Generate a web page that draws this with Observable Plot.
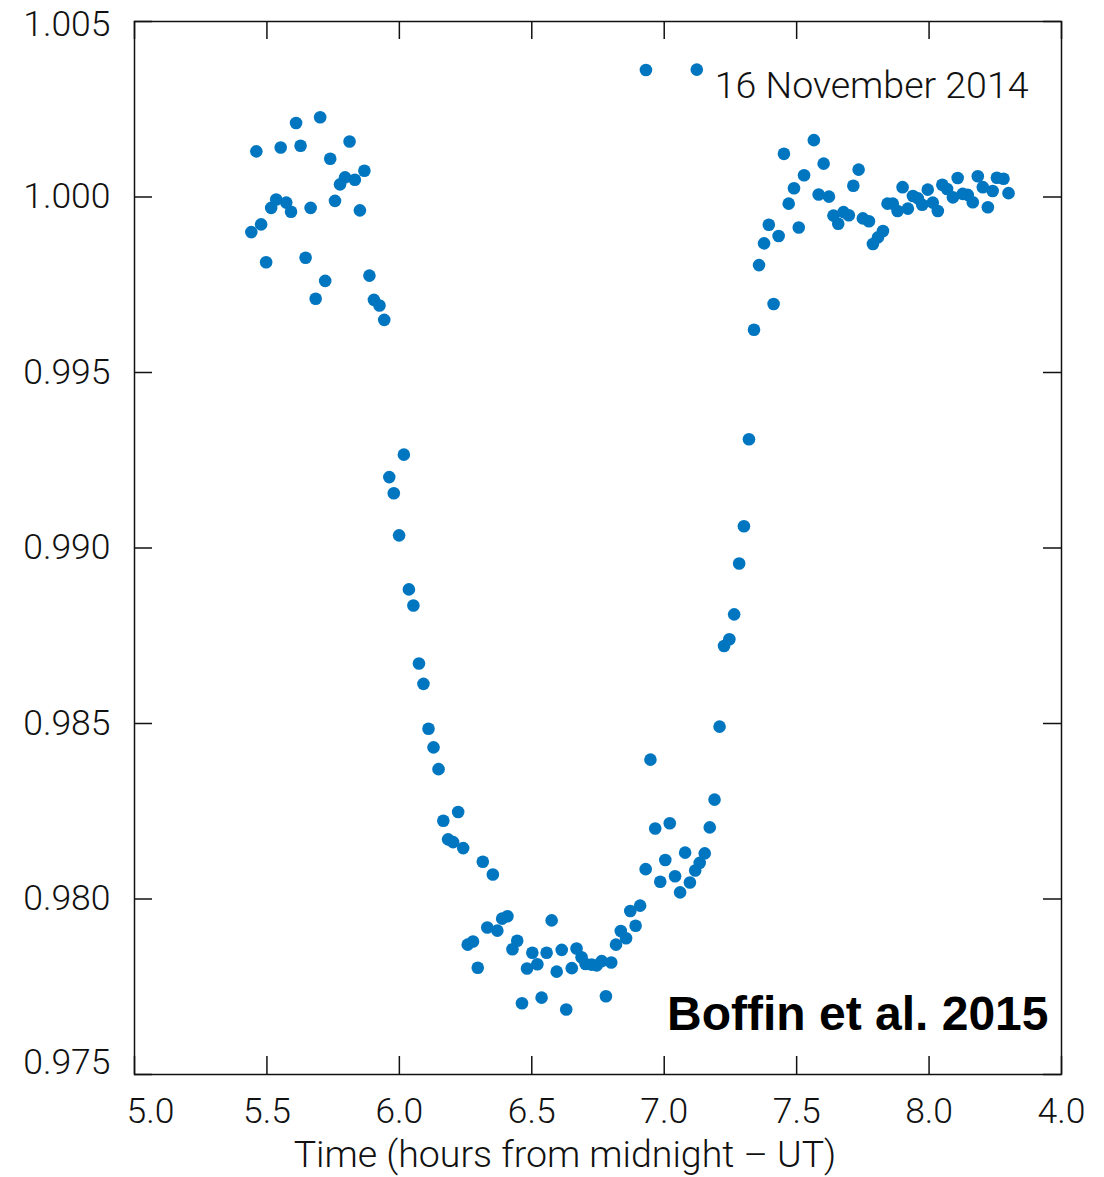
<!DOCTYPE html>
<html>
<head>
<meta charset="utf-8">
<script src="https://cdn.jsdelivr.net/npm/d3@7"></script>
<script src="https://cdn.jsdelivr.net/npm/@observablehq/plot@0.6"></script>
<style>
  html, body { margin: 0; padding: 0; background: #ffffff; }
  #chart svg { display: block; }
</style>
</head>
<body>
<div id="chart"></div>
<script>
// Time (hours from midnight, UT)
const time = [
  5.441,5.460,5.478,5.497,5.516,5.535,5.552,5.573,5.591,5.610,5.627,5.646,5.665,5.684,5.701,5.720,5.739,5.757,5.776,5.795,5.812,5.832,5.851,5.868,5.887,5.904,5.925,5.943,
  5.962,5.979,5.999,6.017,6.036,6.053,6.074,6.091,6.110,6.129,6.148,6.166,6.184,6.203,6.222,6.241,6.258,6.278,6.296,6.315,6.332,6.353,6.370,6.388,6.408,6.427,6.445,6.463,6.482,6.502,6.521,6.537,6.556,6.575,6.594,6.613,6.630,6.651,6.669,6.688,6.703,6.726,6.745,6.764,6.780,6.800,6.818,6.836,6.856,6.872,6.892,6.909,6.930,
  6.931,6.948,6.966,6.985,7.004,7.021,7.041,7.060,7.079,7.097,7.117,7.123,7.134,7.153,7.172,7.190,7.209,7.226,7.246,7.264,7.283,7.301,7.320,7.339,7.358,7.377,7.395,7.413,7.432,7.452,7.470,7.490,7.508,7.528,7.565,7.583,7.602,7.622,7.639,7.657,7.677,7.697,7.714,7.734,7.750,7.773,7.788,7.807,7.826,7.843,7.863,7.881,7.900,7.920,7.939,7.958,7.974,7.995,8.014,8.033,8.050,8.068,8.090,8.108,8.127,8.146,8.165,8.184,8.203,8.222,8.240,8.256,8.281,8.300
];
// Relative flux
const flux = [
  0.99900,1.00130,0.99922,0.99814,0.99969,0.99993,1.00141,0.99984,0.99958,1.00211,1.00146,0.99827,0.99969,0.99710,1.00227,0.99761,1.00109,0.99989,1.00036,1.00056,1.00158,1.00049,0.99962,1.00075,0.99776,0.99707,0.99691,0.99650,
  0.99202,0.99156,0.99036,0.99266,0.98882,0.98836,0.98671,0.98613,0.98485,0.98432,0.98370,0.98223,0.98170,0.98162,0.98248,0.98145,0.97870,0.97879,0.97804,0.98106,0.97919,0.98070,0.97910,0.97944,0.97951,0.97857,0.97881,0.97703,0.97802,0.97847,0.97814,0.97719,0.97847,0.97939,0.97793,0.97855,0.97685,0.97803,0.97859,0.97834,0.97815,0.97813,0.97811,0.97823,0.97723,0.97819,0.97870,0.97909,0.97888,0.97966,0.97924,0.97981,0.98085,
  1.00362,0.98397,0.98201,0.98049,0.98111,0.98216,0.98065,0.98019,0.98132,0.98047,0.98081,1.00363,0.98103,0.98130,0.98204,0.98283,0.98491,0.98721,0.98740,0.98811,0.98956,0.99062,0.99310,0.99622,0.99806,0.99868,0.99921,0.99695,0.99889,1.00123,0.99981,1.00025,0.99913,1.00062,1.00162,1.00007,1.00095,1.00001,0.99947,0.99924,0.99957,0.99948,1.00032,1.00078,0.99939,0.99931,0.99866,0.99885,0.99903,0.99981,0.99981,0.99960,1.00028,0.99967,1.00003,0.99996,0.99978,1.00021,0.99984,0.99960,1.00035,1.00023,0.99999,1.00054,1.00009,1.00006,0.99985,1.00059,1.00028,0.99971,1.00017,1.00055,1.00052,1.00011
];

// Axis ticks and labels (the original's last x label reads "4.0")
const xTicks = [5.0, 5.5, 6.0, 6.5, 7.0, 7.5, 8.0, 8.5];
const xTickLabels = ["5.0", "5.5", "6.0", "6.5", "7.0", "7.5", "8.0", "4.0"];
const yTicks = [0.975, 0.980, 0.985, 0.990, 0.995, 1.000, 1.005];
const yTickLabels = ["0.975", "0.980", "0.985", "0.990", "0.995", "1.000", "1.005"];

const xTitle = "Time (hours from midnight \u2013 UT)";
const dateNote = "16 November 2014";
const credit = "Boffin et al. 2015";

const n = Math.min(time.length, flux.length);
const points = d3.range(n).map(i => ({t: time[i], f: flux[i]}));

const W = 1104, H = 1177;
const mL = 134, mR = 43, mT = 21, mB = 103;
const innerW = W - mL - mR, innerH = H - mT - mB;
const tickLen = 18;
const xLabel = d => xTickLabels[xTicks.indexOf(d)];
const yLabel = d => yTickLabels[yTicks.indexOf(d)];
const lightFont = '"Helvetica Neue", Roboto, "Liberation Sans", Arial, sans-serif';

const chart = Plot.plot({
  width: W,
  height: H,
  marginLeft: mL,
  marginRight: mR,
  marginTop: mT,
  marginBottom: mB,
  style: {fontFamily: lightFont, fontSize: "35px", fontWeight: 300, color: "#111", background: "#fff"},
  x: {domain: [5.0, 8.5]},
  y: {domain: [0.975, 1.005]},
  marks: [
    // inward ticks on all four sides
    Plot.tickX(xTicks, {x: d => d, insetTop: innerH - tickLen, stroke: "#111", strokeWidth: 1.5}),
    Plot.tickX(xTicks, {x: d => d, insetBottom: innerH - tickLen, stroke: "#111", strokeWidth: 1.5}),
    Plot.tickY(yTicks, {y: d => d, insetRight: innerW - tickLen, stroke: "#111", strokeWidth: 1.5}),
    Plot.tickY(yTicks, {y: d => d, insetLeft: innerW - tickLen, stroke: "#111", strokeWidth: 1.5}),
    // tick labels
    Plot.axisX(xTicks.slice(1), {anchor: "bottom", tickSize: 0, tickPadding: 23, tickFormat: xLabel, label: null, fontSize: 35.5}),
    Plot.axisX([xTicks[0]], {anchor: "bottom", tickSize: 0, tickPadding: 23, dx: 16, tickFormat: xLabel, label: null, fontSize: 35.5}),
    Plot.axisY(yTicks.slice(1, -1), {anchor: "left", tickSize: 0, tickPadding: 24, tickFormat: yLabel, label: null, fontSize: 35.5}),
    Plot.axisY([yTicks[0]], {anchor: "left", tickSize: 0, tickPadding: 24, dy: -12, tickFormat: yLabel, label: null, fontSize: 35.5}),
    Plot.axisY([yTicks[yTicks.length - 1]], {anchor: "left", tickSize: 0, tickPadding: 24, dy: 3, tickFormat: yLabel, label: null, fontSize: 35.5}),
    // data
    Plot.dot(points, {x: "t", y: "f", r: 6.3, fill: "#0076c0", stroke: "none"}),
    // annotations
    Plot.text([dateNote], {frameAnchor: "top-right", textAnchor: "end", lineAnchor: "bottom", dx: -33, dy: 76, fontSize: 37.5, fill: "#111"}),
    Plot.text([credit], {frameAnchor: "bottom-right", textAnchor: "end", lineAnchor: "bottom", dx: -13, dy: -45, fontSize: 48, fontWeight: "bold", fontFamily: '"Liberation Sans", Arial, sans-serif', fill: "#000"}),
    Plot.text([xTitle], {frameAnchor: "bottom", lineAnchor: "bottom", dx: -33, dy: 92, fontSize: 37.5, fill: "#111"}),
    Plot.frame({stroke: "#111", strokeWidth: 1.5})
  ]
});

document.getElementById("chart").appendChild(chart);
</script>
</body>
</html>
